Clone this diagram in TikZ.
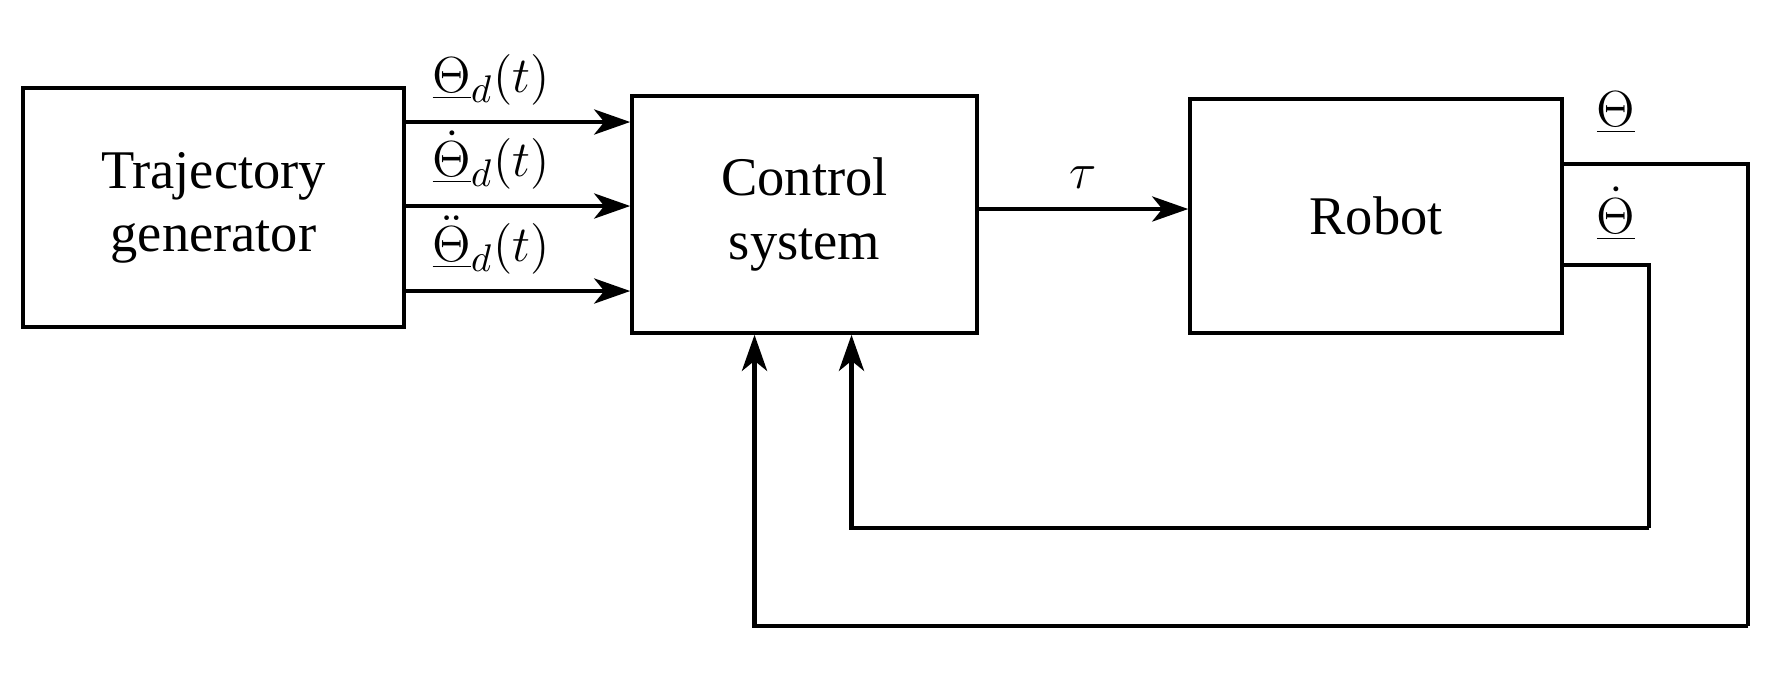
\documentclass[tikz,border=0pt]{standalone}
\usepackage{fontspec}
\setmainfont{Liberation Serif}
\usetikzlibrary{arrows.meta}

\begin{document}
\begin{tikzpicture}[
        font=\fontsize{15.5}{18}\selectfont,
        block/.style={draw, line width=1pt, align=center, inner sep=0pt},
        sig/.style={line width=1.4pt, -{Stealth[length=3.6mm, width=2.5mm, inset=1mm]}},
        fb/.style={line width=1.4pt},
        lbl/.style={inner sep=1pt}
    ]
        \useasboundingbox (0, 0) rectangle (17.65, -6.89);

        \node[block, minimum width=3.81cm, minimum height=2.39cm] (traj) at (2.135, -2.075) {Trajectory\\generator};
        \node[block, minimum width=3.45cm, minimum height=2.37cm] (ctrl) at (8.045, -2.145) {Control\\system};
        \node[block, minimum width=3.72cm, minimum height=2.34cm] (robot) at (13.76, -2.16) {Robot};

        \draw[sig] ([yshift=0.855cm]traj.east) -- ([yshift=0.855cm]traj.east -| ctrl.west)
            node[lbl, pos=0.38, above=3pt] (pos) {$\underline{\Theta}_d(t)$};
        \draw[sig] ([yshift=0.015cm]traj.east) -- ([yshift=0.015cm]traj.east -| ctrl.west)
            node[lbl, pos=0.38, above=3pt] (vel) {$\underline{\dot{\Theta}}_d(t)$};
        \draw[sig] ([yshift=-0.835cm]traj.east) -- ([yshift=-0.835cm]traj.east -| ctrl.west)
            node[lbl, pos=0.38, above=3pt] (acc) {$\underline{\ddot{\Theta}}_d(t)$};

        \draw[sig] ([yshift=0.055cm]ctrl.east) -- ([yshift=0.055cm]ctrl.east -| robot.west)
            node[lbl, midway, above=4pt] (tau) {$\tau$};

        \coordinate (outA) at (17.48, -1.64);
        \coordinate (outB) at (16.49, -2.65);
        \coordinate (backA) at (17.48, -6.26);
        \coordinate (backB) at (16.49, -5.28);

        \draw[fb] (robot.east |- outA) -- (outA) -- (backA);
        \draw[sig] (backA) -| ([xshift=-0.5cm]ctrl.south);
        \draw[fb] (robot.east |- outB) -- (outB) -- (backB);
        \draw[sig] (backB) -| ([xshift=0.47cm]ctrl.south);

        \node[lbl] (th) at (16.16, -1.13) {$\underline{\Theta}$};
        \node[lbl] (thd) at (16.16, -2.14) {$\underline{\dot{\Theta}}$};
    \end{tikzpicture}
\end{document}
